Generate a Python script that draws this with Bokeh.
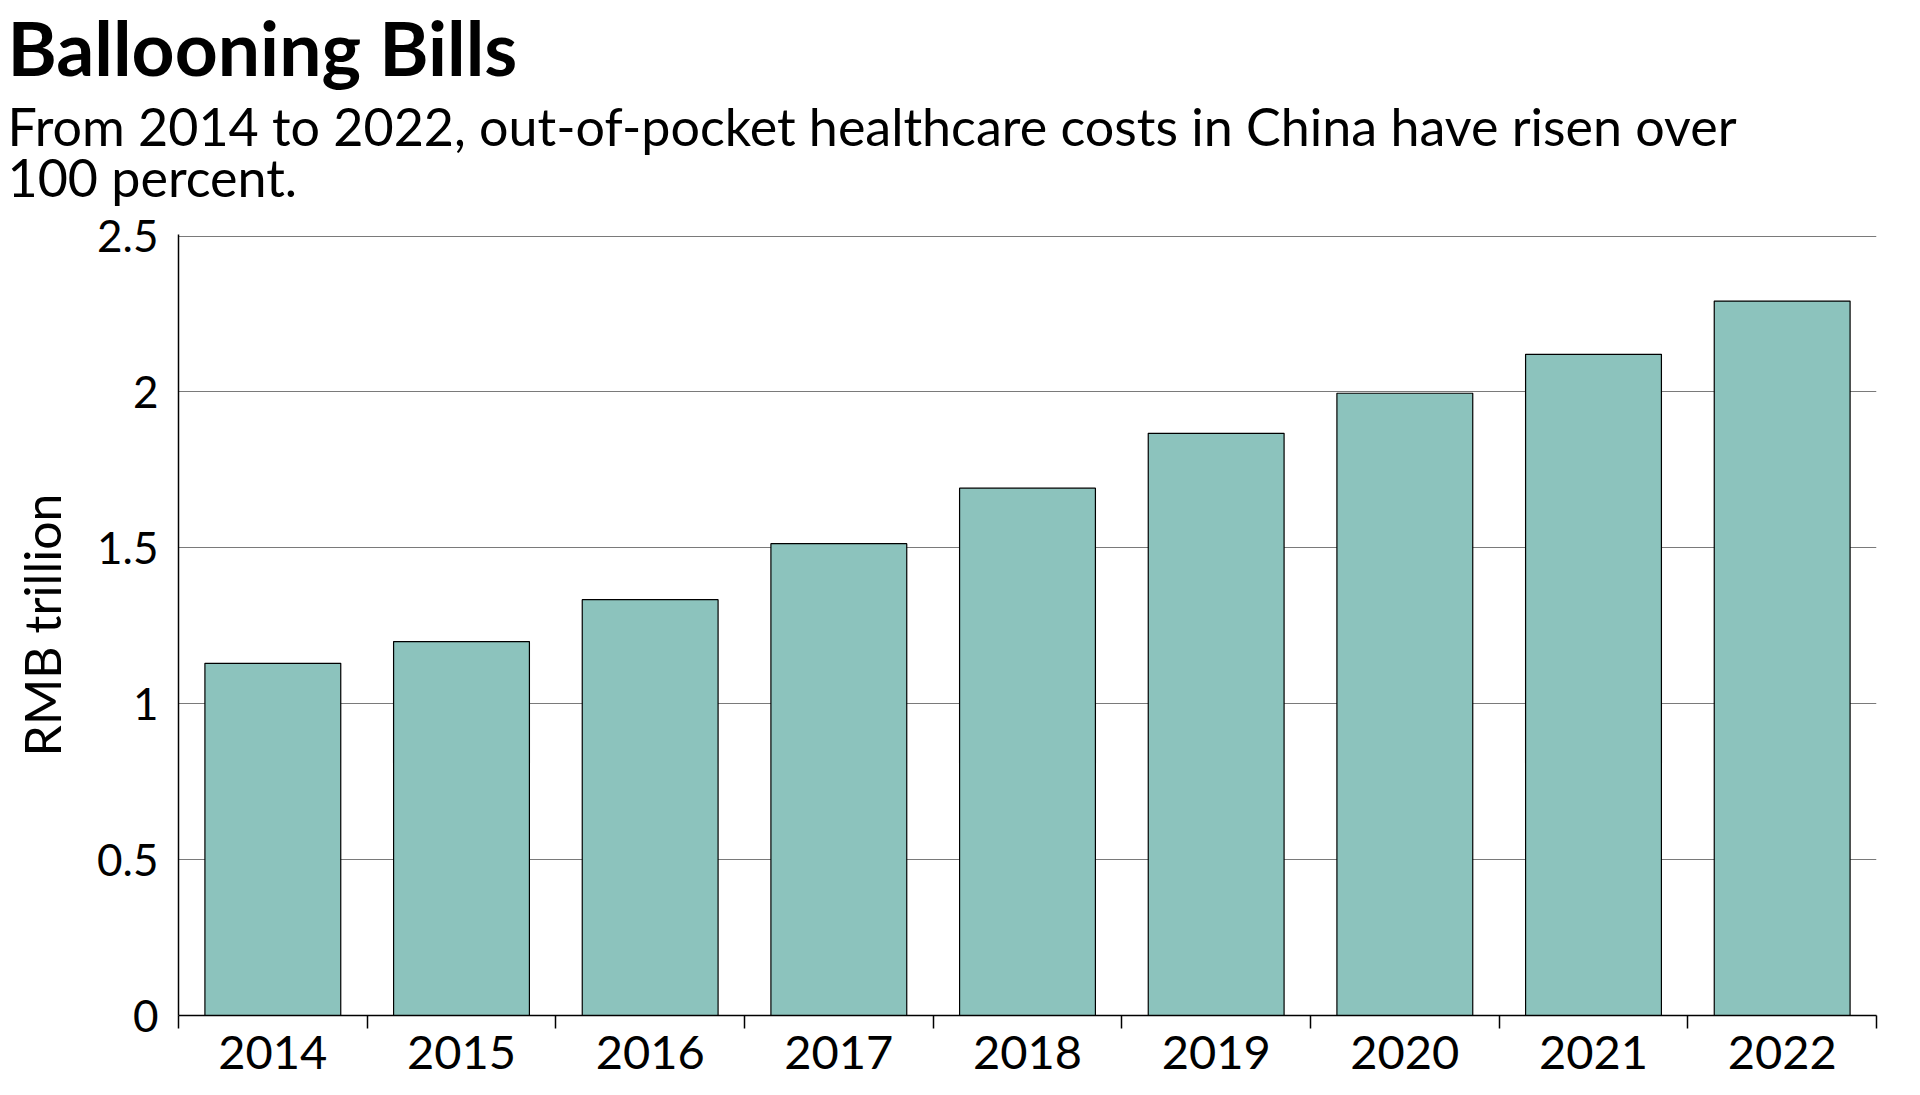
from bokeh.plotting import figure
from bokeh.models import Range1d, FixedTicker, Title
from bokeh.embed import file_html
from bokeh.resources import INLINE

# ---- data ----
years = [2014, 2015, 2016, 2017, 2018, 2019, 2020, 2021, 2022]
year_labels = ["2014", "2015", "2016", "2017", "2018", "2019", "2020", "2021", "2022"]
oop_costs = [1.1295, 1.1992, 1.3338, 1.5134, 1.6912, 1.8674, 1.9959, 2.1206, 2.2914]
y_ticks = [0, 0.5, 1, 1.5, 2, 2.5]
y_tick_labels = ["0", "0.5", "1", "1.5", "2", "2.5"]

title_text = "Ballooning Bills"
subtitle_lines = ["From 2014 to 2022, out-of-pocket healthcare costs in China have risen over",
                  " 100 percent."]
y_label = "RMB trillion"

FONT = "Lato"
BAR_COLOR = "#8cc3bd"

p = figure(width=1904, height=1086, output_backend="svg", toolbar_location=None,
           x_range=Range1d(years[0] - 0.5, years[-1] + 0.5),
           y_range=Range1d(0, y_ticks[-1] * 1.002),
           min_border_left=178, min_border_right=28, min_border_bottom=71,
           min_border_top=0)
p.outline_line_color = None
p.background_fill_color = "white"
p.border_fill_color = "white"

p.vbar(x=years, top=oop_costs, width=0.72, fill_color=BAR_COLOR,
       line_color="black", line_width=1.2)

# x axis
boundaries = [y - 0.5 for y in years] + [years[-1] + 0.5]
p.xaxis.ticker = FixedTicker(ticks=years, minor_ticks=boundaries)
p.xaxis.major_label_overrides = {y: lbl for y, lbl in zip(years, year_labels)}
p.xaxis.major_tick_out = 0
p.xaxis.major_tick_in = 0
p.xaxis.minor_tick_out = 13
p.xaxis.minor_tick_in = 0
p.xaxis.minor_tick_line_color = "black"
p.xaxis.minor_tick_line_width = 1.5
p.xaxis.axis_line_color = "black"
p.xaxis.axis_line_width = 1.5
p.xaxis.major_label_text_font = FONT
p.xaxis.major_label_text_font_size = "47px"
p.xaxis.major_label_text_color = "black"
p.xaxis.major_label_standoff = 7
p.xgrid.grid_line_color = None

# y axis
p.yaxis.ticker = FixedTicker(ticks=y_ticks)
p.yaxis.major_label_overrides = {t: lbl for t, lbl in zip(y_ticks, y_tick_labels)}
p.yaxis.major_tick_out = 0
p.yaxis.major_tick_in = 0
p.yaxis.minor_tick_line_color = None
p.yaxis.axis_line_color = "black"
p.yaxis.axis_line_width = 1.5
p.yaxis.major_label_text_font = FONT
p.yaxis.major_label_text_font_size = "44px"
p.yaxis.major_label_text_color = "black"
p.yaxis.major_label_standoff = 20
p.yaxis.axis_label = y_label
p.yaxis.axis_label_text_font = FONT
p.yaxis.axis_label_text_font_size = "50px"
p.yaxis.axis_label_text_font_style = "normal"
p.yaxis.axis_label_text_color = "black"
p.yaxis.axis_label_standoff = 22
p.ygrid.grid_line_color = "#7a7a7a"
p.ygrid.grid_line_width = 1

# titles (added bottom-up)
p.add_layout(Title(text="\n".join(subtitle_lines), text_font=FONT, text_font_size="52px",
                   text_font_style="normal", text_color="black", text_line_height=0.83,
                   align="left", offset=-171, standoff=52), "above")
p.add_layout(Title(text=title_text, text_font=FONT, text_font_size="75px",
                   text_font_style="bold", text_color="black",
                   align="left", offset=-171, standoff=-48), "above")
# small spacer at the very top so the title is not clipped
p.add_layout(Title(text=" ", text_font_size="1px", standoff=20), "above")

open("out.html", "w").write(file_html(p, INLINE))
